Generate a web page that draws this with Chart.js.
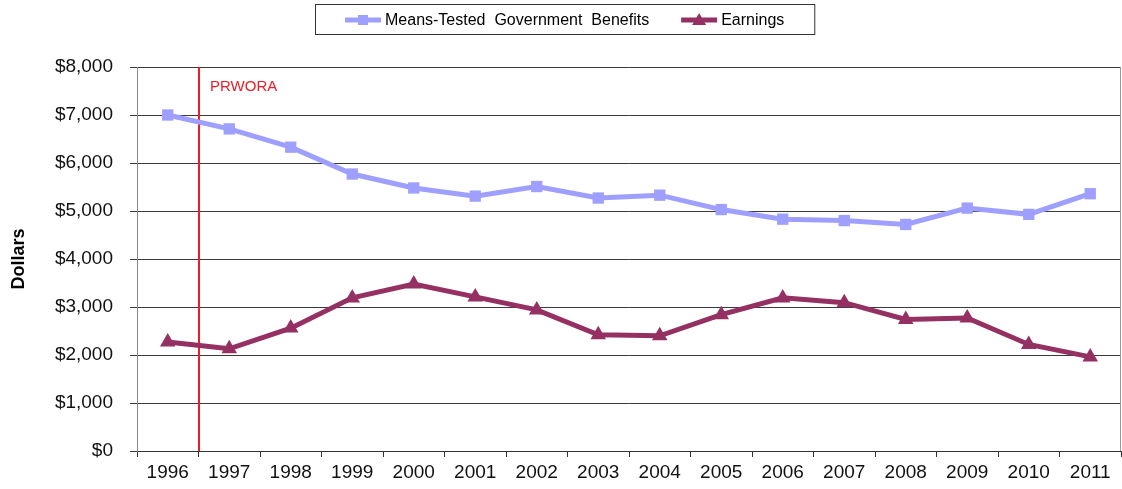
<!DOCTYPE html>
<html>
<head>
<meta charset="utf-8">
<script src="https://cdn.jsdelivr.net/npm/chart.js@4.4.0/dist/chart.umd.min.js"></script>
<style>
  html, body { margin: 0; padding: 0; background: #fff; }
  #wrap { width: 1122px; height: 489px; }
</style>
</head>
<body>
<div id="wrap"><canvas id="benefitsChart" width="1122" height="489"></canvas></div>
<script>
// data
const years = ['1996','1997','1998','1999','2000','2001','2002','2003','2004','2005','2006','2007','2008','2009','2010','2011'];
const benefits = [7000, 6710, 6330, 5770, 5480, 5310, 5510, 5270, 5330, 5030, 4830, 4800, 4720, 5060, 4930, 5360];
const earnings = [2270, 2130, 2560, 3190, 3480, 3210, 2940, 2420, 2400, 2840, 3190, 3090, 2740, 2770, 2220, 1960];
const yTicks = [0, 1000, 2000, 3000, 4000, 5000, 6000, 7000, 8000];
const policyMark = { label: 'PRWORA', between: ['1996', '1997'] };

const FONT = '"Liberation Sans", Arial, sans-serif';

// custom legend (line + marker), boxed, like the original
const boxedLegend = {
  id: 'boxedLegend',
  afterDraw(chart) {
    const ctx = chart.ctx;
    const sets = chart.data.datasets;
    ctx.save();
    ctx.font = '16px ' + FONT;
    ctx.textBaseline = 'middle';
    const lineLen = 36, gap = 4, itemGap = 32, padX = 30;
    let total = padX * 2;
    sets.forEach((ds, i) => {
      total += lineLen + gap + ctx.measureText(ds.label).width;
      if (i < sets.length - 1) total += itemGap;
    });
    const cx = 565, top = 4, h = 30;
    const left = Math.round(cx - total / 2);
    ctx.strokeStyle = '#333';
    ctx.lineWidth = 1;
    ctx.strokeRect(left + 0.5, top + 0.5, total, h);
    let x = left + padX;
    const y = top + h / 2 + 1;
    sets.forEach((ds) => {
      ctx.strokeStyle = ds.borderColor;
      ctx.lineWidth = 5;
      ctx.beginPath();
      ctx.moveTo(x, y);
      ctx.lineTo(x + lineLen, y);
      ctx.stroke();
      ctx.fillStyle = ds.borderColor;
      const mx = x + lineLen / 2;
      if (ds.pointStyle === 'rect') {
        ctx.fillRect(mx - 5, y - 5, 10, 10);
      } else {
        ctx.beginPath();
        ctx.moveTo(mx, y - 7);
        ctx.lineTo(mx + 7, y + 5);
        ctx.lineTo(mx - 7, y + 5);
        ctx.closePath();
        ctx.fill();
      }
      x += lineLen + gap;
      ctx.fillStyle = '#000';
      ctx.fillText(ds.label, x, y + 1);
      x += ctx.measureText(ds.label).width + itemGap;
    });
    ctx.restore();
  }
};

// right border of the plot + policy line
const extras = {
  id: 'extras',
  beforeDatasetsDraw(chart) {
    const { ctx, chartArea: { top, bottom, right } } = chart;
    const xs = chart.scales.x;
    ctx.save();
    ctx.strokeStyle = '#9a9a9a';
    ctx.lineWidth = 1;
    ctx.beginPath();
    ctx.moveTo(Math.round(right) - 0.5, top);
    ctx.lineTo(Math.round(right) - 0.5, bottom);
    ctx.stroke();

    const a = xs.getPixelForValue(years.indexOf(policyMark.between[0]));
    const b = xs.getPixelForValue(years.indexOf(policyMark.between[1]));
    const px = Math.round((a + b) / 2);
    ctx.strokeStyle = '#ee1c25';
    ctx.lineWidth = 2;
    ctx.beginPath();
    ctx.moveTo(px, top);
    ctx.lineTo(px, bottom);
    ctx.stroke();
    ctx.fillStyle = '#ee1c25';
    ctx.font = '15px ' + FONT;
    ctx.textBaseline = 'middle';
    ctx.fillText(policyMark.label, px + 11, top + 20);
    ctx.restore();
  }
};

const config = {
  type: 'line',
  data: {
    labels: years,
    datasets: [{
      label: 'Means-Tested  Government  Benefits',
      data: benefits,
      borderColor: '#9f9fff',
      backgroundColor: '#9f9fff',
      borderWidth: 5,
      pointStyle: 'rect',
      pointRadius: 8,
      pointBorderWidth: 0,
      tension: 0
    }, {
      label: 'Earnings',
      data: earnings,
      borderColor: '#953063',
      backgroundColor: '#953063',
      borderWidth: 5,
      pointStyle: 'triangle',
      pointRadius: 9,
      pointBorderWidth: 0,
      tension: 0
    }]
  },
  options: {
    responsive: false,
    animation: false,
    layout: { autoPadding: false, padding: { top: 67, right: 1, left: 0, bottom: 0 } },
    plugins: {
      legend: { display: false },
      tooltip: { enabled: false }
    },
    scales: {
      x: {
        offset: true,
        grid: { offset: true, drawOnChartArea: false, drawTicks: true, tickLength: 6, color: '#333' },
        border: { color: '#333' },
        ticks: { color: '#111', font: { family: FONT, size: 19 }, padding: 4, maxRotation: 0 },
        afterFit(scale) {
          scale.height = 38;
          scale.paddingLeft = 0;
          scale.paddingRight = 0;
        }
      },
      y: {
        min: 0,
        max: 8000,
        afterBuildTicks(scale) { scale.ticks = yTicks.map(v => ({ value: v })); },
        grid: { color: '#3a3a3a', tickLength: 7 },
        border: { color: '#8a8a8a' },
        ticks: {
          color: '#111',
          font: { family: FONT, size: 19 },
          padding: 17,
          callback: v => '$' + v.toLocaleString('en-US')
        },
        title: {
          display: true,
          text: 'Dollars',
          color: '#000',
          font: { family: FONT, size: 18, weight: 'bold' },
          padding: { top: 8, bottom: 0 }
        },
        afterFit(scale) { scale.width = 137; }
      }
    }
  },
  plugins: [extras, boxedLegend]
};

const benefitsChart = new Chart(document.getElementById('benefitsChart'), config);
</script>
</body>
</html>
